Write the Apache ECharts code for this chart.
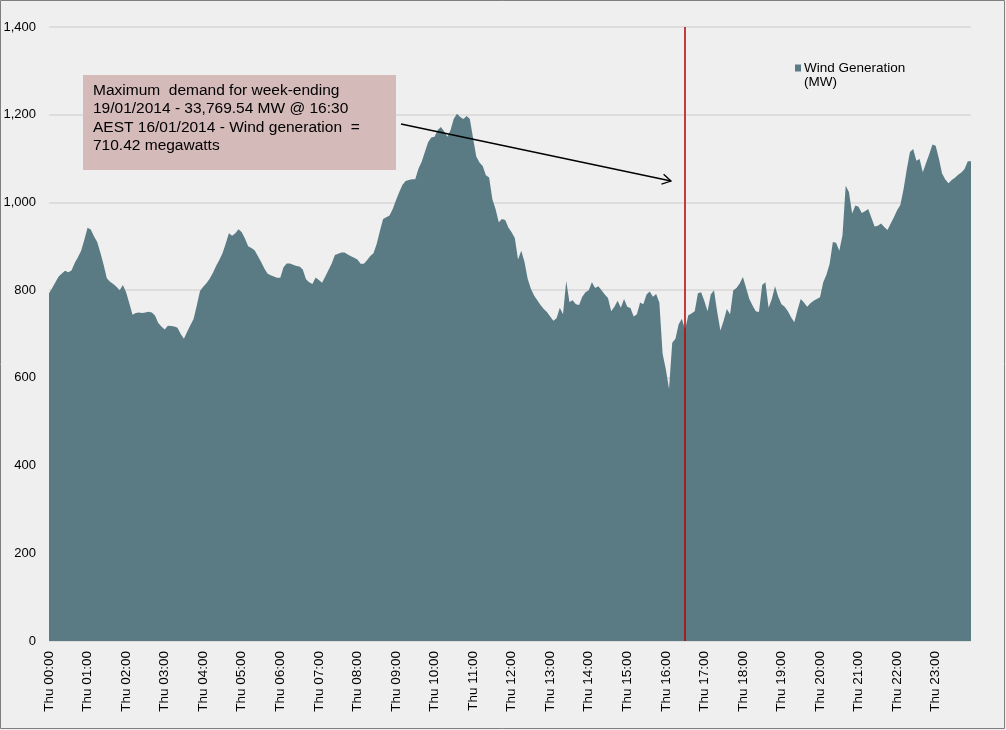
<!DOCTYPE html>
<html>
<head>
<meta charset="utf-8">
<script src="https://cdn.jsdelivr.net/npm/echarts@6/dist/echarts.min.js"></script>
<style>
  html, body { margin: 0; padding: 0; background: #efefef; }
  #chart { width: 1006px; height: 730px; }
</style>
</head>
<body>
<div id="chart"></div>
<script>
// 5-minute intervals, Thu 00:00 .. Thu 23:55
const times = [];
for (let h = 0; h < 24; h++) {
  for (let m = 0; m < 60; m += 5) {
    times.push('Thu ' + String(h).padStart(2, '0') + ':' + String(m).padStart(2, '0'));
  }
}

// Wind generation (MW), one row per hour
const windMW = [
  793, 805, 818, 831, 838, 844, 841, 845, 862, 875, 890, 915,
  942, 938, 923, 910, 885, 858, 827, 819, 814, 808, 800, 812,
  795, 770, 744, 748, 749, 748, 749, 751, 749, 742, 725, 717,
  710, 719, 718, 717, 714, 700, 689, 705, 720, 734, 765, 798,
  808, 816, 826, 839, 855, 869, 884, 906, 930, 924, 930, 939,
  932, 918, 900, 896, 891, 878, 865, 850, 838, 834, 831, 828,
  828, 852, 861, 861, 858, 855, 854, 847, 825, 818, 814, 829,
  823, 817, 831, 846, 861, 880, 883, 886, 886, 881, 877, 874,
  870, 860, 860, 868, 878, 884, 905, 935, 962, 966, 970, 985,
  1005, 1023, 1040, 1049, 1051, 1053, 1053, 1077, 1093, 1115, 1137, 1148,
  1150, 1165, 1172, 1162, 1150, 1165, 1191, 1202, 1195, 1190, 1197, 1190,
  1147, 1105, 1091, 1083, 1062, 1057, 1008, 985, 955, 962, 960, 943,
  932, 919, 870, 890, 865, 826, 803, 788, 777, 766, 757, 750,
  740, 730, 736, 760, 745, 821, 773, 777, 768, 766, 785, 795,
  800, 818, 805, 809, 800, 790, 782, 752, 762, 776, 760, 780,
  762, 759, 740, 745, 772, 768, 790, 797, 785, 791, 771, 655,
  620, 575, 680, 689, 722, 735, 710, 743, 747, 752, 793, 795,
  775, 752, 790, 800, 750, 708, 730, 757, 745, 800, 805, 815,
  830, 805, 780, 765, 752, 750, 812, 818, 760, 780, 809, 785,
  768, 762, 752, 738, 727, 755, 780, 772, 762, 770, 776, 780,
  784, 818, 835, 860, 910, 908, 890, 925, 1038, 1024, 975, 993,
  990, 976, 980, 985, 965, 945, 947, 952, 944, 937, 952, 966,
  982, 994, 1030, 1075, 1115, 1122, 1095, 1099, 1069, 1090, 1110, 1132,
  1129, 1100, 1066, 1052, 1044, 1051, 1056, 1063, 1068, 1076, 1094, 1094
];

const peakTime = 'Thu 16:30';
const yMin = 0, yMax = 1400, yStep = 200;

const seriesName = 'Wind Generation (MW)';
const noteLines = [
  'Maximum  demand for week-ending',
  '19/01/2014 - 33,769.54 MW @ 16:30',
  'AEST 16/01/2014 - Wind generation  =',
  '710.42 megawatts'
];

const FONT = '"Liberation Sans", Arial, sans-serif';
const areaColor = '#5a7b84';

const chart = echarts.init(document.getElementById('chart'));

chart.setOption({
  backgroundColor: '#efefef',
  animation: false,
  grid: { left: 49, right: 35, top: 27, bottom: 89 },
  legend: {
    left: 795,
    top: 61,
    padding: 0,
    icon: 'rect',
    itemWidth: 6,
    itemHeight: 7,
    textStyle: { fontFamily: FONT, fontSize: 13.5, color: '#000', padding: [0, 0, 0, -2] },
    // second line "(MW)" is drawn just below, as in the original legend
    formatter: (name) => name.replace(' (MW)', ''),
    data: [seriesName]
  },
  xAxis: {
    type: 'category',
    data: times,
    boundaryGap: false,
    axisLine: { show: false },
    axisTick: { show: false },
    axisLabel: {
      interval: 11,
      rotate: 90,
      margin: 10,
      fontFamily: FONT,
      fontSize: 13.5,
      color: '#000'
    },
    splitLine: { show: false }
  },
  yAxis: {
    type: 'value',
    min: yMin,
    max: yMax,
    interval: yStep,
    z: 3,
    axisLine: { show: false },
    axisTick: { show: false },
    axisLabel: {
      margin: 13,
      fontFamily: FONT,
      fontSize: 13,
      color: '#000',
      formatter: (v) => v.toLocaleString('en-US')
    },
    splitLine: { lineStyle: { color: 'rgba(0,0,0,0.1)', width: 1.5 } }
  },
  series: [
    {
      name: seriesName,
      type: 'line',
      data: windMW,
      symbol: 'none',
      sampling: null,
      itemStyle: { color: areaColor },
      lineStyle: { width: 0 },
      areaStyle: { color: areaColor, opacity: 1 },
      markLine: {
        silent: true,
        symbol: 'none',
        label: { show: false },
        lineStyle: { color: '#b80000', width: 1.5, type: 'solid' },
        data: [{ xAxis: peakTime }]
      }
    }
  ],
  graphic: [
    {
      type: 'rect',
      shape: { x: 0.5, y: 0.5, width: 1004, height: 728 },
      style: { fill: null, stroke: '#7f7f7f', lineWidth: 1 },
      silent: true
    },
    {
      type: 'text',
      x: 804,
      y: 82,
      style: {
        text: '(MW)',
        font: '13.5px ' + FONT,
        fill: '#000',
        verticalAlign: 'middle'
      }
    },
    {
      type: 'rect',
      shape: { x: 83, y: 75, width: 313, height: 95 },
      style: { fill: '#d5baba' },
      z: 10
    },
    {
      type: 'text',
      x: 93,
      y: 81,
      z: 11,
      style: {
        text: noteLines.join('\n'),
        font: '15.5px ' + FONT,
        lineHeight: 18.5,
        fill: '#000'
      }
    },
    {
      type: 'line',
      shape: { x1: 401, y1: 124, x2: 671, y2: 181 },
      style: { stroke: '#000', lineWidth: 1.3 },
      z: 11
    },
    {
      type: 'polyline',
      shape: { points: [[663.6, 174.3], [671, 181], [661.5, 184.1]] },
      style: { stroke: '#000', lineWidth: 1.3, fill: null },
      z: 11
    }
  ]
});
</script>
</body>
</html>
